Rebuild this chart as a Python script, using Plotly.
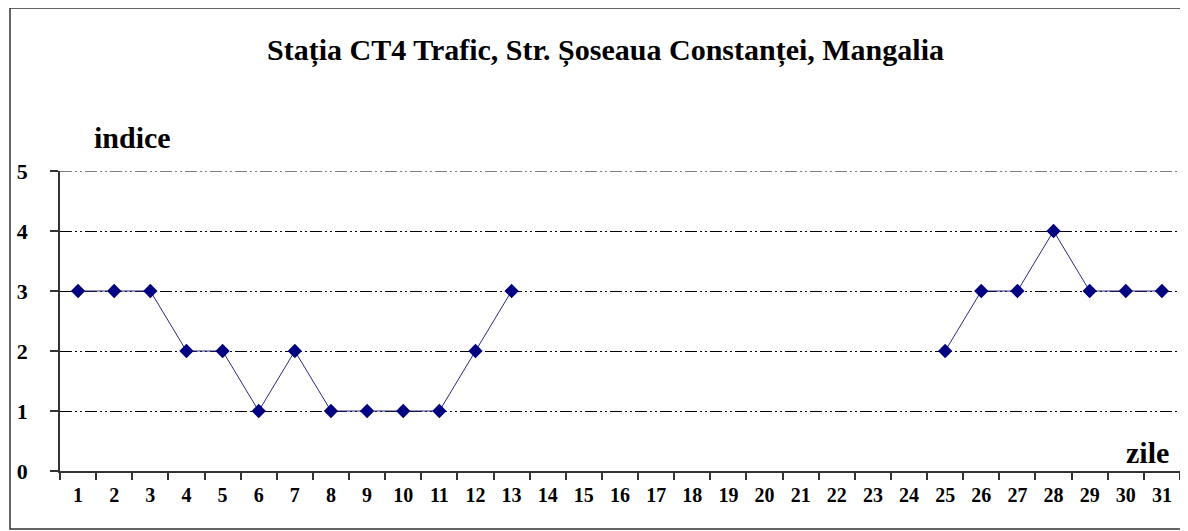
import plotly.graph_objects as go

days = [str(d) for d in range(1, 32)]
indice = [3, 3, 3, 2, 2, 1, 2, 1, 1, 1, 1, 2, 3,
          None, None, None, None, None, None, None, None, None, None, None,
          2, 3, 3, 4, 3, 3, 3]
y_ticks = [0, 1, 2, 3, 4, 5]

title_text = "Stația CT4 Trafic, Str. Șoseaua Constanței, Mangalia"
FONT = "Liberation Serif"

O = 8  # browser body margin
W, H = 1188 - O, 531 - O
# plot area in page pixels
L, R, T, B = 60, 1180, 171, 471
pw, ph = R - L, B - T

def px(x):
    return (x - L) / pw

def py(y):
    return (B - y) / ph

DASH = "12px,3px,2px,3px,2px,3px"

fig = go.Figure()
fig.add_trace(go.Scatter(
    x=days, y=indice, mode="lines+markers",
    line=dict(color="#2a2a80", width=1),
    marker=dict(symbol="diamond", size=11, color="#000080"),
    connectgaps=False, showlegend=False,
))

fig.update_layout(
    width=W, height=H,
    margin=dict(l=L - O, r=(1188 - R), t=T - O, b=531 - B),
    paper_bgcolor="white", plot_bgcolor="white",
    font=dict(family=FONT, color="black", size=19),
    xaxis=dict(
        type="category", categoryorder="array", categoryarray=days,
        range=[-0.5, 30.5], showgrid=False, showline=True,
        linecolor="#333", linewidth=1.5,
        ticks="outside", tickson="boundaries", ticklen=7, tickcolor="#333",
        tickwidth=1.5, ticklabelstandoff=5,
        tickfont=dict(family=FONT, size=20, color="black", weight="bold"),
        zeroline=False,
    ),
    yaxis=dict(
        range=[0, 5], tickvals=y_ticks, showgrid=True,
        gridcolor="black", gridwidth=1, griddash=DASH,
        showline=True, linecolor="#333", linewidth=1.5,
        ticks="outside", ticklen=8, tickcolor="#333", tickwidth=1.5,
        ticklabelstandoff=18,
        tickfont=dict(family=FONT, size=22, color="black", weight="bold"),
        zeroline=False,
    ),
    shapes=[
        dict(type="rect", xref="paper", yref="paper",
             x0=px(10), x1=px(1183), y0=py(529), y1=py(8),
             line=dict(color="#333", width=1.5), fillcolor="rgba(0,0,0,0)",
             layer="below"),
        dict(type="line", xref="paper", yref="y",
             x0=0, x1=1, y0=y_ticks[-1], y1=y_ticks[-1],
             line=dict(color="black", width=1, dash=DASH), layer="below"),
    ],
    annotations=[
        dict(text="<b>" + title_text + "</b>", xref="paper", yref="paper",
             x=px(605), y=py(50), xanchor="center", yanchor="middle",
             showarrow=False, font=dict(family=FONT, size=30, color="black")),
        dict(text="<b>indice</b>", xref="paper", yref="paper",
             x=px(92), y=py(138), xanchor="left", yanchor="middle",
             showarrow=False, font=dict(family=FONT, size=30, color="black")),
        dict(text="<b>zile</b>", xref="paper", yref="paper",
             x=px(1171), y=py(452), xanchor="right", yanchor="middle",
             showarrow=False, font=dict(family=FONT, size=30, color="black")),
    ],
)

fig.write_html("out.html")
